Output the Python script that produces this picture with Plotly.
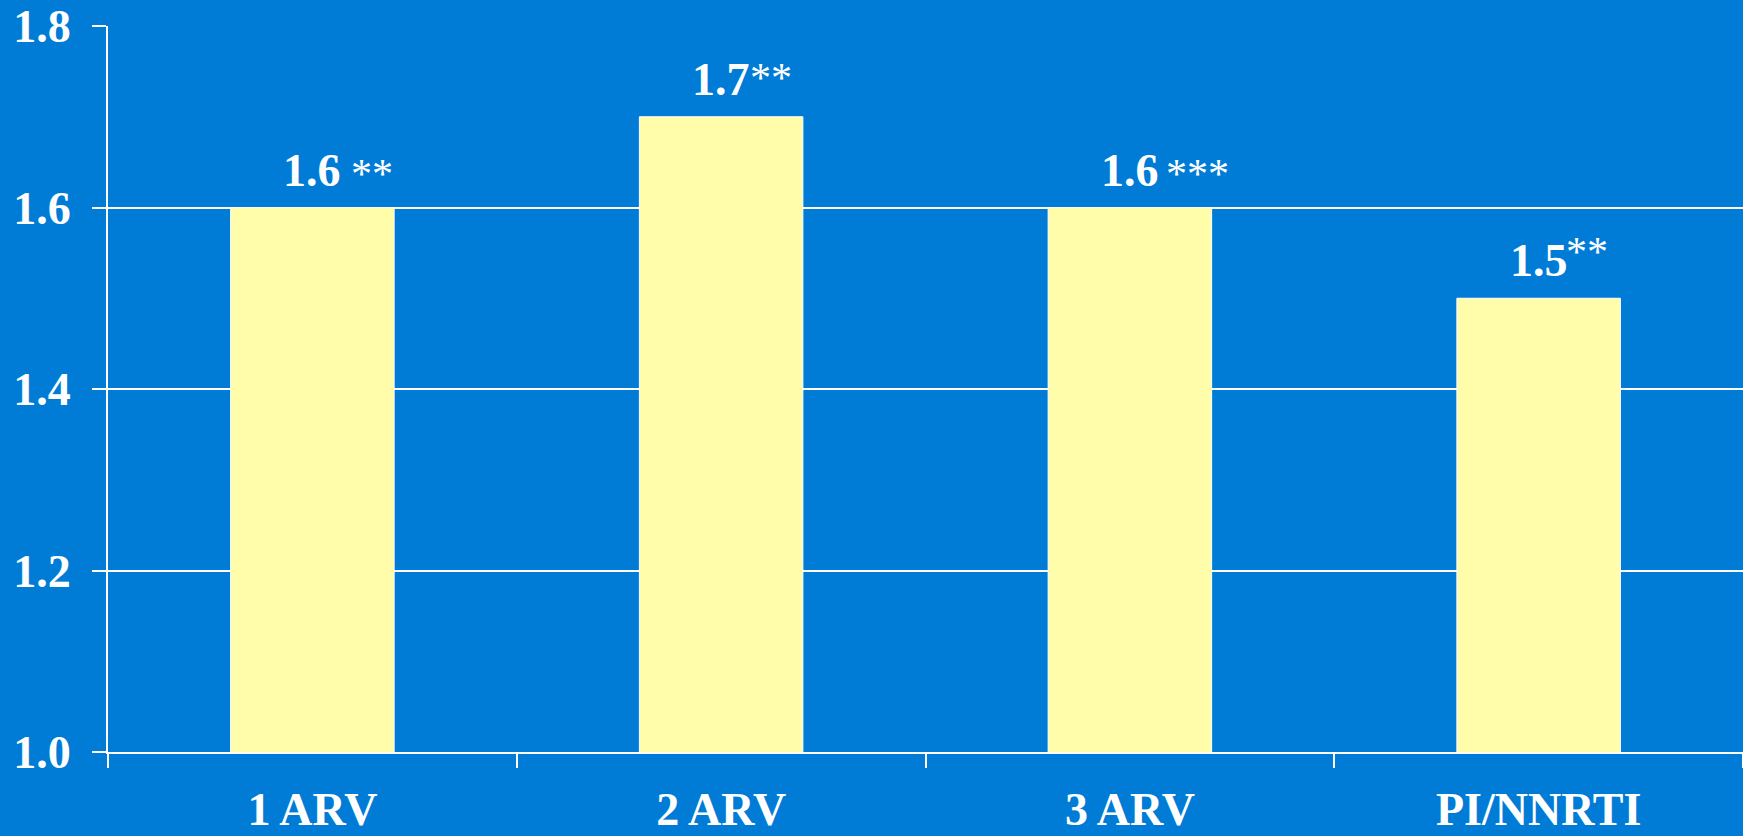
import plotly.graph_objects as go

# ---- data ----
categories = ["1 ARV", "2 ARV", "3 ARV", "PI/NNRTI"]
values = [1.6, 1.7, 1.6, 1.5]
value_labels = ["1.6", "1.7", "1.6", "1.5"]
star_labels = ["**", "**", "***", "**"]
y_ticks = [1.0, 1.2, 1.4, 1.6, 1.8]

# ---- style ----
BG = "#007CD6"
BAR = "#FFFDAA"
FONT = "Liberation Serif"
star_xshift = [37, 27, 34, 25]
star_yshift = [9, 14, 9, 21]

fig = go.Figure()
fig.add_trace(go.Bar(
    x=categories, y=values,
    marker=dict(color=BAR, line=dict(color="white", width=1)),
    width=0.4, hoverinfo="skip",
))

annotations = []
for i, (c, v) in enumerate(zip(categories, values)):
    annotations.append(dict(
        x=c, y=v, xref="x", yref="y", text=value_labels[i],
        showarrow=False, xanchor="center", yanchor="bottom", yshift=10,
        font=dict(family=FONT, size=46, color="white", weight="bold"),
    ))
    annotations.append(dict(
        x=c, y=v, xref="x", yref="y", text=star_labels[i],
        showarrow=False, xanchor="left", yanchor="bottom",
        xshift=star_xshift[i], yshift=star_yshift[i],
        font=dict(family=FONT, size=42, color="white"),
    ))

fig.update_layout(
    width=1743, height=836,
    margin=dict(l=108, r=0, t=26, b=84, autoexpand=False),
    paper_bgcolor=BG, plot_bgcolor=BG,
    showlegend=False,
    annotations=annotations,
    xaxis=dict(
        type="category", range=[-0.5, 3.5], automargin=False,
        showline=True, linecolor="white", linewidth=2,
        ticks="outside", tickson="boundaries", ticklen=14, tickwidth=2, tickcolor="white",
        showgrid=False, ticklabelstandoff=16,
        tickfont=dict(family=FONT, size=46, color="white", weight="bold"),
    ),
    yaxis=dict(
        range=[1.0, 1.8], tickvals=y_ticks, tickformat=".1f", automargin=False,
        showline=True, linecolor="white", linewidth=2,
        ticks="outside", ticklen=14, tickwidth=2, tickcolor="white",
        showgrid=True, gridcolor="white", gridwidth=2, zeroline=False,
        ticklabelstandoff=12,
        tickfont=dict(family=FONT, size=46, color="white", weight="bold"),
    ),
)

fig.write_html("out.html")
